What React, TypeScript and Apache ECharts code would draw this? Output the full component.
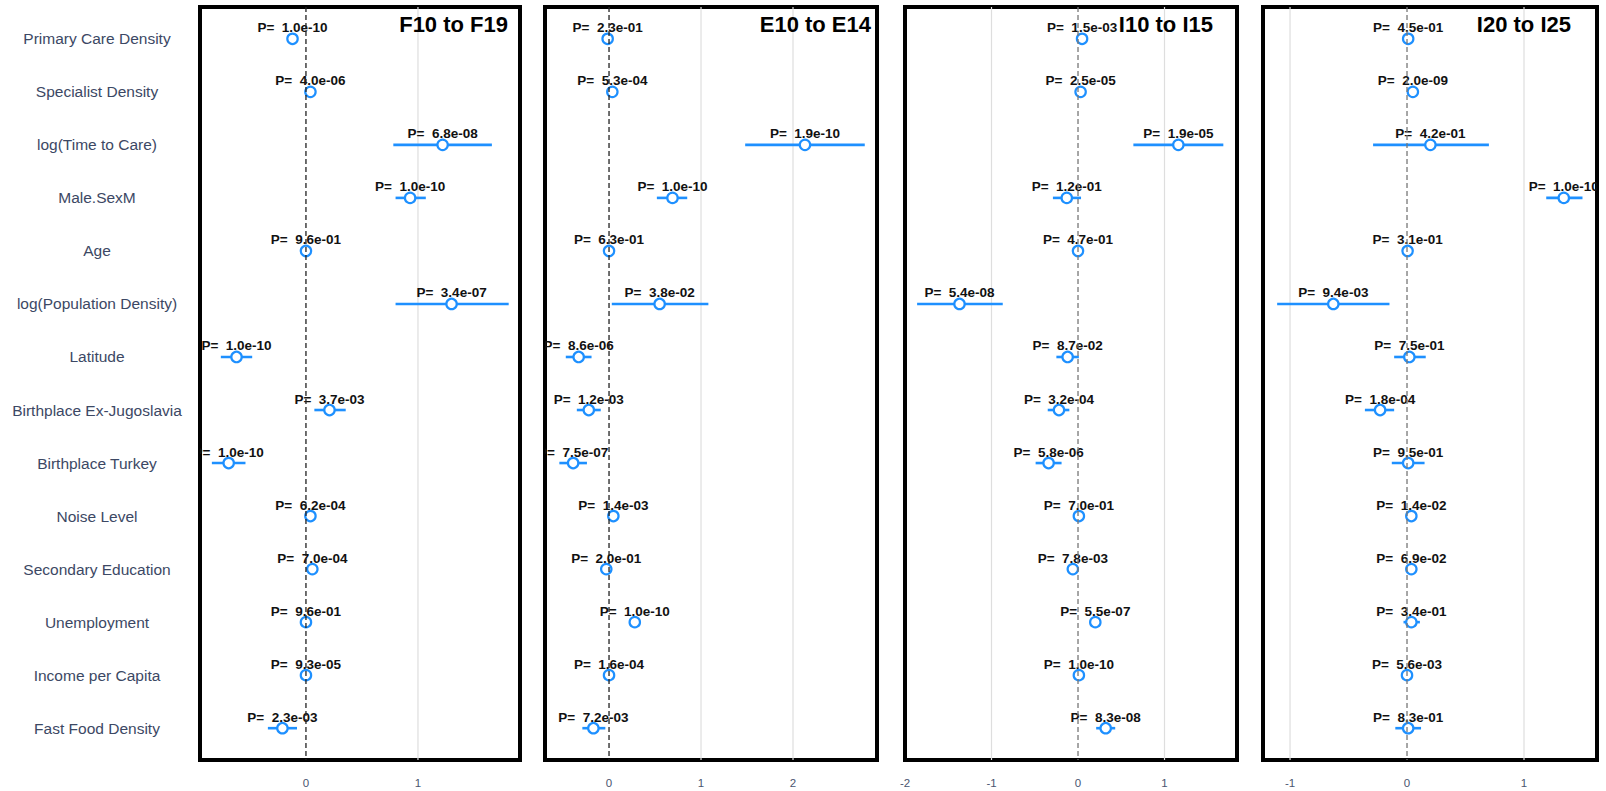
import React, { useEffect, useRef } from "react";
import * as echarts from "echarts";

const CATEGORIES = [
  "Primary Care Density",
  "Specialist Density",
  "log(Time to Care)",
  "Male.SexM",
  "Age",
  "log(Population Density)",
  "Latitude",
  "Birthplace Ex-Jugoslavia",
  "Birthplace Turkey",
  "Noise Level",
  "Secondary Education",
  "Unemployment",
  "Income per Capita",
  "Fast Food Density",
];

const PANEL_TITLES = ["F10 to F19", "E10 to E14", "I10 to I15", "I20 to I25"];

const F10_EST = [-0.12, 0.04, 1.22, 0.93, 0.0, 1.3, -0.62, 0.21, -0.69, 0.04, 0.057, 0.0, 0.0, -0.21];
const F10_LO = [-0.15, 0.01, 0.78, 0.8, -0.02, 0.8, -0.76, 0.075, -0.84, 0.02, 0.03, -0.02, -0.02, -0.34];
const F10_HI = [-0.09, 0.07, 1.66, 1.07, 0.02, 1.81, -0.48, 0.355, -0.54, 0.06, 0.085, 0.02, 0.02, -0.08];
const F10_P = ["1.0e-10", "4.0e-06", "6.8e-08", "1.0e-10", "9.6e-01", "3.4e-07", "1.0e-10", "3.7e-03", "1.0e-10", "6.2e-04", "7.0e-04", "9.6e-01", "9.3e-05", "2.3e-03"];

const E10_EST = [-0.015, 0.036, 2.13, 0.69, 0.0, 0.55, -0.33, -0.22, -0.39, 0.047, -0.03, 0.28, 0.0, -0.17];
const E10_LO = [-0.04, 0.01, 1.48, 0.52, -0.02, 0.03, -0.47, -0.35, -0.54, 0.02, -0.05, 0.25, -0.02, -0.29];
const E10_HI = [0.01, 0.06, 2.78, 0.85, 0.02, 1.08, -0.19, -0.09, -0.24, 0.07, -0.01, 0.31, 0.02, -0.04];
const E10_P = ["2.3e-01", "5.3e-04", "1.9e-10", "1.0e-10", "6.3e-01", "3.8e-02", "8.6e-06", "1.2e-03", "7.5e-07", "1.4e-03", "2.0e-01", "1.0e-10", "1.6e-04", "7.2e-03"];

const I10_EST = [0.047, 0.03, 1.16, -0.13, 0.0, -1.37, -0.12, -0.22, -0.34, 0.01, -0.06, 0.2, 0.01, 0.32];
const I10_LO = [0.02, 0.0, 0.64, -0.29, -0.02, -1.86, -0.25, -0.35, -0.49, -0.01, -0.08, 0.17, -0.01, 0.21];
const I10_HI = [0.07, 0.06, 1.68, 0.035, 0.02, -0.87, 0.01, -0.1, -0.19, 0.03, -0.04, 0.23, 0.03, 0.43];
const I10_P = ["1.5e-03", "2.5e-05", "1.9e-05", "1.2e-01", "4.7e-01", "5.4e-08", "8.7e-02", "3.2e-04", "5.8e-06", "7.0e-01", "7.8e-03", "5.5e-07", "1.0e-10", "8.3e-08"];

const I20_EST = [0.01, 0.05, 0.2, 1.34, 0.005, -0.63, 0.02, -0.23, 0.01, 0.037, 0.037, 0.037, 0.0, 0.01];
const I20_LO = [-0.02, 0.02, -0.29, 1.19, -0.02, -1.11, -0.11, -0.36, -0.13, 0.01, 0.01, -0.03, -0.02, -0.1];
const I20_HI = [0.04, 0.08, 0.7, 1.5, 0.03, -0.15, 0.16, -0.11, 0.15, 0.06, 0.06, 0.11, 0.02, 0.12];
const I20_P = ["4.5e-01", "2.0e-09", "4.2e-01", "1.0e-10", "3.1e-01", "9.4e-03", "7.5e-01", "1.8e-04", "9.5e-01", "1.4e-02", "6.9e-02", "3.4e-01", "5.6e-03", "8.3e-01"];

const TICKS = [[0, 1], [0, 1, 2], [-2, -1, 0, 1], [-1, 0, 1]];
const GRIDLINES = [[1], [1, 2], [-1, 1], [-1, 1]];
const X_MIN = [-0.946, -0.696, -2.0, -1.231];
const X_MAX = [1.911, 2.913, 1.838, 1.624];

const Y_MIN = -0.6;
const Y_MAX = 13.6;

const BLUE = "#1e90ff";
const FONT = '"Liberation Sans", Arial, Helvetica, sans-serif';

export default function App() {
  const ref = useRef<HTMLDivElement>(null);

  useEffect(() => {
    document.body.style.margin = "0";
    if (!ref.current) return;
    const chart = echarts.init(ref.current, null, { renderer: "svg" });

    const ests = [F10_EST, E10_EST, I10_EST, I20_EST];
    const los = [F10_LO, E10_LO, I10_LO, I20_LO];
    const his = [F10_HI, E10_HI, I10_HI, I20_HI];
    const ps = [F10_P, E10_P, I10_P, I20_P];

    const layout = [
      { left: 200, width: 320, zero: "#222", titleRight: 508 },
      { left: 545, width: 332, zero: "#222", titleRight: 871 },
      { left: 905, width: 332, zero: "#777", titleRight: 1213 },
      { left: 1263, width: 334, zero: "#777", titleRight: 1571 },
    ];
    const top = 7;
    const height = 753;
    const rows = CATEGORIES.map((_, i) => i);

    const grid = layout.map((l) => ({
      left: l.left,
      top,
      width: l.width,
      height,
      show: true,
      borderColor: "#000",
      borderWidth: 4,
      backgroundColor: "transparent",
      containLabel: false,
      outerBoundsMode: "none",
    }));

    const xAxis = layout.map((l, i) => ({
      type: "value",
      gridIndex: i,
      min: X_MIN[i],
      max: X_MAX[i],
      axisLine: { show: false },
      axisTick: { show: false },
      splitLine: { show: false },
      axisLabel: {
        customValues: TICKS[i],
        color: "#4a5570",
        fontSize: 11.5,
        fontFamily: FONT,
        margin: 17,
      },
    }));

    const yAxis = layout.map((l, i) => ({
      type: "value",
      gridIndex: i,
      inverse: true,
      min: Y_MIN,
      max: Y_MAX,
      axisLine: { show: false },
      axisTick: { show: false },
      splitLine: { show: false },
      axisLabel:
        i === 0
          ? {
              customValues: rows,
              formatter: (v: number) => CATEGORIES[Math.round(v)] ?? "",
              align: "center",
              margin: 103,
              color: "#3c4864",
              fontSize: 15.5,
              fontFamily: FONT,
            }
          : { show: false },
    }));

    const series: any[] = [];
    layout.forEach((l, i) => {
      series.push({
        type: "custom",
        xAxisIndex: i,
        yAxisIndex: i,
        silent: true,
        z: 1,
        data: GRIDLINES[i].map((v) => [v, 0]),
        encode: { x: 0, y: 1 },
        renderItem: (params: any, api: any) => {
          const v = api.value(0);
          const a = api.coord([v, Y_MIN]);
          const b = api.coord([v, Y_MAX]);
          return {
            type: "line",
            shape: { x1: a[0], y1: a[1], x2: b[0], y2: b[1] },
            style: { stroke: "#dedede", lineWidth: 1.2 },
          };
        },
      });
      const est = ests[i];
      const lo = los[i];
      const hi = his[i];
      const p = ps[i];
      series.push({
        type: "custom",
        xAxisIndex: i,
        yAxisIndex: i,
        silent: true,
        clip: true,
        z: 2,
        data: est.map((e, k) => [e, k, lo[k], hi[k]]),
        encode: { x: [0, 2, 3], y: 1 },
        renderItem: (params: any, api: any) => {
          const e = api.value(0);
          const r = api.value(1);
          const c = api.coord([e, r]);
          const a = api.coord([api.value(2), r]);
          const b = api.coord([api.value(3), r]);
          return {
            type: "group",
            children: [
              {
                type: "line",
                shape: { x1: a[0], y1: c[1], x2: b[0], y2: c[1] },
                style: { stroke: BLUE, lineWidth: 2.6 },
              },
              {
                type: "circle",
                shape: { cx: c[0], cy: c[1], r: 5.2 },
                style: { fill: "#fff", stroke: BLUE, lineWidth: 2.2 },
              },
              {
                type: "text",
                x: c[0],
                y: c[1] - 11,
                style: {
                  text: "P=  " + p[params.dataIndex],
                  fill: "#111",
                  fontSize: 13.5,
                  fontWeight: "bold",
                  fontFamily: FONT,
                  align: "center",
                  verticalAlign: "middle",
                },
              },
            ],
          };
        },
      });
      series.push({
        type: "custom",
        xAxisIndex: i,
        yAxisIndex: i,
        silent: true,
        z: 3,
        data: [[0, 0]],
        encode: { x: 0, y: 1 },
        renderItem: (params: any, api: any) => {
          const a = api.coord([0, Y_MIN]);
          const b = api.coord([0, Y_MAX]);
          return {
            type: "line",
            shape: { x1: a[0], y1: a[1], x2: b[0], y2: b[1] },
            style: { stroke: l.zero, lineWidth: 1.3, lineDash: [5, 3] },
          };
        },
      });
    });

    const graphic = layout.map((l, i) => ({
      type: "text",
      z: 100,
      x: l.titleRight,
      y: 24,
      style: {
        text: PANEL_TITLES[i],
        fill: "#000",
        fontSize: 22,
        fontWeight: "bold",
        fontFamily: FONT,
        align: "right",
        verticalAlign: "middle",
      },
    }));

    chart.setOption({
      animation: false,
      backgroundColor: "#fff",
      grid,
      xAxis,
      yAxis,
      series,
      graphic,
    });

    return () => chart.dispose();
  }, []);

  return (
    <div
      ref={ref}
      style={{ position: "absolute", left: 0, top: 0, width: 1606, height: 791 }}
    />
  );
}
